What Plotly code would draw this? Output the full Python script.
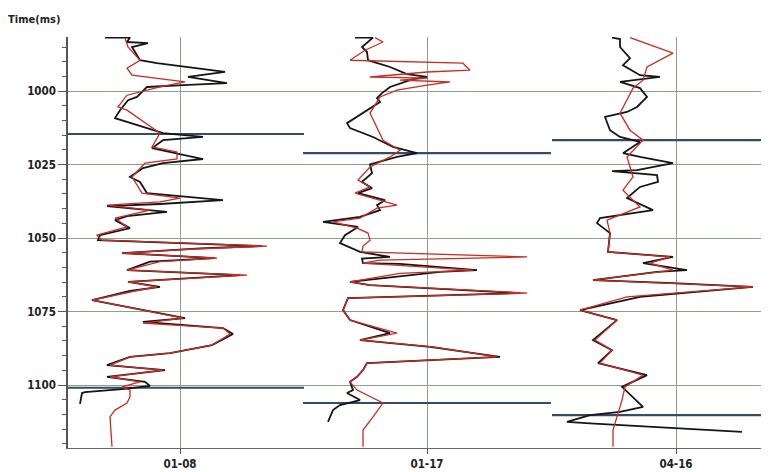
import plotly.graph_objects as go

# ---------------- data ----------------
wells = ["01-08", "01-17", "04-16"]

# Track 1 (01-08): time (ms) and amplitude relative to the well's baseline
w1_black_t = [981.8, 981.8, 983.3, 983.7, 985.0, 989.5, 990.5, 993.5, 995.2, 997.3, 998.0, 998.6,
              1002.0, 1003.1, 1006.5, 1009.2, 1010.5, 1014.3, 1015.6, 1016.7, 1019.4, 1020.7, 1023.1,
              1024.5, 1026.2, 1029.2, 1030.9, 1034.7, 1037.1, 1038.4, 1039.1, 1041.1, 1042.5, 1043.9,
              1046.6, 1049.0, 1050.7, 1052.7, 1053.5, 1055.1, 1056.8, 1058.0, 1060.9, 1062.6, 1064.9,
              1066.6, 1068.0, 1071.1, 1074.5, 1077.2, 1078.5, 1080.6, 1082.6, 1086.4, 1089.1, 1090.4,
              1093.2, 1094.9, 1097.2, 1098.9, 1100.3, 1101.3, 1102.4, 1102.7, 1106.4]
w1_black_v = [-75, -50, -53, -32, -48, -40, -23, 45, 8, 47, 3, -33,
              -43, -52, -60, -65, -53, -17, 23, -17, -28, -10, 23,
              -17, -37, -50, -40, -33, 43, -20, -73, -13, -53, -65,
              -50, -80, -82, 82, 20, -58, 35, -30, -53, 60, -52,
              -20, -50, -88, -37, 5, -37, 43, 53, 32, -10, -50,
              -73, -15, -73, -35, -30, -55, -95, -98, -100]
w1_red_t = [982.0, 985.0, 989.5, 992.2, 994.6, 996.9, 998.6, 1001.4, 1005.4, 1006.5, 1014.3, 1019.0,
            1020.7, 1023.1, 1024.5, 1029.2, 1034.7, 1036.4, 1037.7, 1038.8, 1040.5, 1043.2, 1046.2,
            1049.0, 1050.7, 1052.7, 1053.8, 1055.1, 1056.8, 1058.0, 1060.9, 1062.6, 1064.9, 1066.6,
            1068.0, 1071.1, 1074.5, 1077.2, 1078.9, 1080.6, 1082.6, 1086.4, 1089.1, 1090.4, 1093.2,
            1094.9, 1097.2, 1098.9, 1100.6, 1101.7, 1104.0, 1106.1, 1108.5, 1110.8, 1121.0]
w1_red_v = [-55, -52, -40, -53, -48, 5, -20, -53, -62, -53, -20, -28,
            -3, -3, -35, -48, -38, 0, -20, -73, -30, -65, -53,
            -83, -78, 87, 10, -58, 37, -20, -53, 67, -52, -23,
            -45, -88, -37, 3, -37, 43, 50, 32, -10, -50, -70,
            -17, -70, -40, -58, -50, -50, -53, -65, -70, -68]

# Track 2 (01-17)
w2_black_t = [981.8, 981.8, 985.0, 986.7, 989.5, 991.8, 994.2, 995.2, 995.9, 998.6, 1000.7, 1002.4,
              1003.7, 1006.5, 1010.9, 1012.6, 1015.6, 1019.0, 1021.1, 1022.4, 1024.9, 1027.9, 1030.9,
              1033.0, 1034.7, 1037.1, 1038.8, 1040.5, 1042.8, 1044.5, 1046.2, 1049.0, 1051.7, 1054.7,
              1056.4, 1057.0, 1058.5, 1058.8, 1060.9, 1061.5, 1064.9, 1066.0, 1068.7, 1070.4, 1074.5,
              1077.9, 1082.3, 1084.7, 1087.0, 1090.4, 1092.5, 1094.9, 1097.2, 1098.9, 1101.7, 1102.7,
              1105.1, 1106.8, 1108.5, 1112.5]
w2_black_v = [-72, -54, -65, -60, -59, -37, -20, 0, -14, -37, -45, -50,
              -47, -60, -80, -77, -54, -34, -10, -30, -57, -55, -65,
              -55, -69, -42, -50, -47, -67, -104, -69, -82, -87, -67,
              -37, -65, -64, -27, 50, 13, -77, -57, 93, -79, -84,
              -77, -37, -67, 3, 73, -60, -64, -70, -77, -74, -80,
              -67, -87, -94, -99]
w2_red_t = [981.8, 983.3, 986.1, 989.5, 990.5, 992.9, 993.5, 995.2, 995.6, 996.3, 996.9, 998.0,
            999.7, 1002.0, 1007.5, 1012.2, 1016.7, 1020.1, 1022.4, 1025.8, 1030.3, 1032.6, 1034.7,
            1038.8, 1039.8, 1043.2, 1044.5, 1046.6, 1048.3, 1050.7, 1052.7, 1054.7, 1056.4, 1057.5,
            1058.5, 1060.9, 1062.0, 1064.9, 1066.0, 1068.7, 1070.4, 1074.5, 1077.9, 1082.3, 1084.7,
            1087.0, 1090.4, 1092.5, 1094.9, 1097.2, 1098.9, 1101.7, 1106.1, 1110.8, 1115.3, 1121.0]
w2_red_v = [-52, -44, -62, -77, 36, 43, 0, -57, 1, -27, 23, 0,
            -30, -47, -57, -50, -44, -27, -37, -57, -69, -57, -72,
            -30, -50, -67, -94, -70, -59, -57, -64, -65, 100, -47,
            -64, 46, -27, -77, -57, 100, -79, -84, -77, -30, -67,
            6, 70, -60, -64, -70, -77, -70, -44, -54, -64, -64]

# Track 3 (04-16)
w3_black_t = [981.8, 982.3, 985.0, 988.8, 991.2, 994.6, 995.2, 996.9, 999.0, 1002.0, 1005.4, 1007.1,
              1008.8, 1013.3, 1015.6, 1017.3, 1021.1, 1022.4, 1024.5, 1026.9, 1027.2, 1028.6, 1030.9,
              1032.6, 1036.4, 1040.5, 1041.5, 1043.2, 1044.9, 1048.3, 1054.7, 1056.4, 1058.5, 1060.9,
              1061.5, 1064.3, 1065.3, 1066.6, 1070.0, 1074.5, 1077.9, 1084.7, 1088.1, 1092.5, 1096.6,
              1100.6, 1107.4, 1109.1, 1110.2, 1112.5, 1113.0, 1115.9]
w3_black_v = [-64, -56, -56, -46, -53, -36, -16, -56, -36, -29, -39, -49,
              -71, -66, -56, -36, -53, -36, -3, -39, -64, -19, -18,
              -36, -49, -23, -43, -76, -79, -66, -68, -3, -33, 11,
              -19, -83, -3, 77, -36, -96, -59, -83, -64, -78, -29,
              -54, -33, -56, -86, -109, -86, 66]
w3_red_t = [981.8, 987.1, 991.8, 996.3, 999.0, 1003.1, 1007.5, 1013.3, 1016.7, 1022.4, 1029.2, 1033.7,
            1039.4, 1043.9, 1048.3, 1054.7, 1056.4, 1058.5, 1060.9, 1064.3, 1066.6, 1070.0, 1074.5,
            1077.9, 1084.7, 1088.1, 1092.5, 1096.6, 1100.6, 1105.1, 1110.8, 1115.3, 1121.0]
w3_red_v = [-46, -3, -29, -33, -43, -49, -56, -46, -33, -49, -43, -53,
            -36, -69, -66, -68, -6, -26, -3, -83, 77, -49, -96,
            -59, -81, -64, -76, -33, -51, -54, -59, -63, -63]

# Horizon picks (ms) per well
horizon_top = [1014.6, 1021.1, 1016.7]
horizon_base = [1100.9, 1106.1, 1110.2]

time_ticks = [1000, 1025, 1050, 1075, 1100]

# ---------------- layout constants ----------------
TRACK_POS = [112, 359, 608]     # x position of each well baseline
TRACK_HALF = 124                # half width of each track
X_RANGE = [0, 701]
Y_RANGE = [1121.4, 981.6]

BLACK = "#151515"
RED = "rgb(200,45,35)"
BLUE = "rgb(55,75,105)"
GRID = "rgb(140,160,140)"
FONT = "Liberation Sans Narrow, DejaVu Sans Condensed, Arial Narrow, sans-serif"

blacks = [(w1_black_t, w1_black_v), (w2_black_t, w2_black_v), (w3_black_t, w3_black_v)]
reds = [(w1_red_t, w1_red_v), (w2_red_t, w2_red_v), (w3_red_t, w3_red_v)]

fig = go.Figure()

# horizon lines
for i in range(3):
    x0 = max(TRACK_POS[i] - TRACK_HALF, X_RANGE[0])
    x1 = min(TRACK_POS[i] + TRACK_HALF, X_RANGE[1])
    for h in (horizon_top[i], horizon_base[i]):
        fig.add_trace(go.Scatter(x=[x0, x1], y=[h, h], mode="lines",
                                 line=dict(color=BLUE, width=2.2),
                                 hoverinfo="skip", showlegend=False))

for i, (t, v) in enumerate(blacks):
    fig.add_trace(go.Scatter(x=[TRACK_POS[i] + a for a in v], y=t, mode="lines",
                             line=dict(color=BLACK, width=1.8),
                             showlegend=False))
for i, (t, v) in enumerate(reds):
    fig.add_trace(go.Scatter(x=[TRACK_POS[i] + a for a in v], y=t, mode="lines",
                             line=dict(color=RED, width=1.3),
                             showlegend=False))

# the page body has an 8px default margin, so the figure is 8px smaller
fig.update_layout(
    width=761, height=464,
    margin=dict(l=60, r=0, t=29, b=24),
    paper_bgcolor="white", plot_bgcolor="white",
    font=dict(family=FONT, size=11, color="#222"),
    showlegend=False,
)
fig.update_xaxes(
    range=X_RANGE, tickmode="array", tickvals=TRACK_POS, ticktext=wells,
    showgrid=True, gridcolor=GRID, gridwidth=1,
    zeroline=False, showline=True, linecolor="#666", linewidth=1,
    ticks="outside", ticklen=5, tickcolor="#555",
    tickfont=dict(family=FONT, size=11.5, color="#222", weight="bold"),
)
fig.update_yaxes(
    range=Y_RANGE, tickmode="array", tickvals=time_ticks,
    showgrid=True, gridcolor=GRID, gridwidth=1,
    zeroline=False, showline=True, linecolor="#555", linewidth=1.5,
    ticks="outside", ticklen=8, tickcolor="#555",
    minor=dict(dtick=5, tick0=1000, ticks="outside", ticklen=4, tickcolor="#555", showgrid=False),
    tickfont=dict(family=FONT, size=11.5, color="#222", weight="bold"),
)
fig.add_annotation(
    text="Time(ms)", xref="paper", yref="paper",
    x=-62 / 701, y=1 + 17 / 411, xanchor="left", yanchor="middle",
    showarrow=False, font=dict(family=FONT, size=11, color="#222", weight="bold"),
)

fig.write_html("out.html")
